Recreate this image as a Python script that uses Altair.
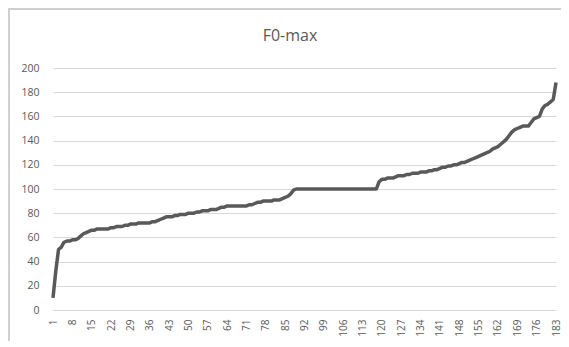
import altair as alt
import pandas as pd

title_text = "F0-max"
values = [
    10, 32, 50, 52, 56, 57, 57, 58, 58, 59,
    61, 63, 64, 65, 66, 66, 67, 67, 67, 67,
    67, 68, 68, 69, 69, 69, 70, 70, 71, 71,
    71, 72, 72, 72, 72, 72, 73, 73, 74, 75,
    76, 77, 77, 77, 78, 78, 79, 79, 79, 80,
    80, 80, 81, 81, 82, 82, 82, 83, 83, 83,
    84, 85, 85, 86, 86, 86, 86, 86, 86, 86,
    86, 87, 87, 88, 89, 89, 90, 90, 90, 90,
    91, 91, 91, 92, 93, 94, 96, 99, 100, 100,
    100, 100, 100, 100, 100, 100, 100, 100, 100, 100,
    100, 100, 100, 100, 100, 100, 100, 100, 100, 100,
    100, 100, 100, 100, 100, 100, 100, 100, 106, 108,
    108, 109, 109, 109, 110, 111, 111, 111, 112, 112,
    113, 113, 113, 114, 114, 114, 115, 115, 116, 116,
    117, 118, 118, 119, 119, 120, 120, 121, 122, 122,
    123, 124, 125, 126, 127, 128, 129, 130, 131, 133,
    134, 135, 137, 139, 141, 144, 147, 149, 150, 151,
    152, 152, 152, 155, 158, 159, 160, 166, 169, 170,
    172, 174, 188,
]
index = list(range(1, len(values) + 1))
x_ticks = [1, 8, 15, 22, 29, 36, 43, 50, 57, 64, 71, 78, 85, 92, 99, 106,
           113, 120, 127, 134, 141, 148, 155, 162, 169, 176, 183]
y_ticks = [0, 20, 40, 60, 80, 100, 120, 140, 160, 180, 200]

df = pd.DataFrame({"i": index, "v": values})

GRAY = "#595959"
GRID = "#d9d9d9"
FONT = "Open Sans"

line = alt.Chart(df).mark_line(color=GRAY, strokeWidth=3.5, strokeJoin="round").encode(
    x=alt.X("i:Q",
            scale=alt.Scale(domain=[1, len(values)], nice=False, zero=False),
            axis=alt.Axis(values=x_ticks, title=None, labelAngle=-90, grid=False,
                          ticks=False, domain=True, domainColor=GRID, domainWidth=1,
                          labelPadding=9, labelColor=GRAY, labelFont=FONT,
                          labelFontSize=10, labelOverlap=False)),
    y=alt.Y("v:Q",
            scale=alt.Scale(domain=[0, 200], nice=False),
            axis=alt.Axis(values=y_ticks, title=None, grid=True, gridColor=GRID,
                          gridWidth=1, ticks=False, domain=False, labelPadding=14,
                          labelColor=GRAY, labelFont=FONT, labelFontSize=10.5)),
)

frame_left = alt.Chart(df).mark_rule(color="#cfcfcf", strokeWidth=1.5).encode(
    x=alt.value(-44.5), y=alt.value(-59), y2=alt.value(300)
)
frame_top = alt.Chart(df).mark_rule(color="#cfcfcf", strokeWidth=1.5).encode(
    x=alt.value(-44.5), x2=alt.value(520), y=alt.value(-59)
)
title = alt.Chart(pd.DataFrame({"t": [title_text]})).mark_text(
    font=FONT, fontSize=16, color=GRAY, align="center", baseline="alphabetic"
).encode(x=alt.value(237), y=alt.value(-27), text="t:N")

chart = alt.layer(frame_left, frame_top, title, line).properties(
    width=503,
    height=242,
    autosize=alt.AutoSizeParams(type="none"),
    padding={"left": 45, "top": 60, "right": 5, "bottom": 31},
).configure_view(stroke=None)

chart.save("out.html", embed_options={"renderer": "svg", "actions": False})
